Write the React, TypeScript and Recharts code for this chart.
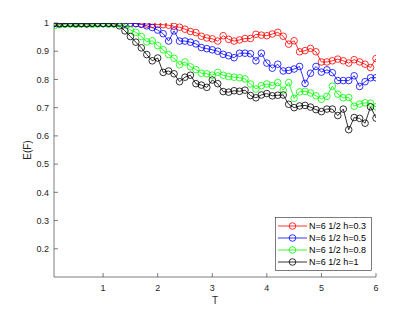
import { LineChart, Line, XAxis, YAxis, Legend } from 'recharts'

const T = [
  0.1, 0.2, 0.3, 0.4, 0.5, 0.6, 0.7, 0.8, 0.9, 1.0,
  1.1, 1.2, 1.3, 1.4, 1.5, 1.6, 1.7, 1.8, 1.9, 2.0,
  2.1, 2.2, 2.3, 2.4, 2.5, 2.6, 2.7, 2.8, 2.9, 3.0,
  3.1, 3.2, 3.3, 3.4, 3.5, 3.6, 3.7, 3.8, 3.9, 4.0,
  4.1, 4.2, 4.3, 4.4, 4.5, 4.6, 4.7, 4.8, 4.9, 5.0,
  5.1, 5.2, 5.3, 5.4, 5.5, 5.6, 5.7, 5.8, 5.9, 6.0,
]

const h03 = [
  1, 1, 0.999, 1, 1, 0.999, 1, 1, 1, 0.999,
  1, 1, 1, 0.999, 0.999, 0.998, 0.997, 0.996, 0.995, 0.995,
  0.994, 0.992, 0.988, 0.985, 0.978, 0.97, 0.966, 0.953, 0.947, 0.944,
  0.936, 0.955, 0.942, 0.936, 0.94, 0.945, 0.945, 0.96, 0.957, 0.955,
  0.961, 0.967, 0.953, 0.925, 0.937, 0.898, 0.902, 0.91, 0.898, 0.862,
  0.862, 0.866, 0.872, 0.866, 0.858, 0.87, 0.862, 0.854, 0.842, 0.874,
]

const h05 = [
  0.998, 0.999, 0.999, 0.998, 0.999, 0.999, 0.998, 0.999, 0.999, 0.999,
  0.998, 0.999, 0.999, 0.999, 0.999, 0.998, 0.995, 0.99, 0.984, 0.975,
  0.962, 0.936, 0.972, 0.936, 0.936, 0.932, 0.926, 0.913, 0.909, 0.905,
  0.9, 0.889, 0.884, 0.877, 0.893, 0.893, 0.891, 0.866, 0.893, 0.858,
  0.84, 0.854, 0.83, 0.832, 0.837, 0.846, 0.786, 0.822, 0.846, 0.826,
  0.834, 0.824, 0.796, 0.796, 0.796, 0.813, 0.775, 0.792, 0.806, 0.806,
]

const h08 = [
  0.99, 0.994, 0.995, 0.996, 0.995, 0.996, 0.996, 0.995, 0.996, 0.997,
  0.996, 0.996, 0.997, 0.995, 0.975, 0.967, 0.952, 0.933, 0.937, 0.92,
  0.905, 0.888, 0.875, 0.852, 0.862, 0.845, 0.835, 0.822, 0.82, 0.815,
  0.825, 0.815, 0.81, 0.808, 0.806, 0.802, 0.784, 0.766, 0.778, 0.784,
  0.778, 0.789, 0.762, 0.789, 0.733, 0.756, 0.758, 0.752, 0.742, 0.73,
  0.74, 0.776, 0.748, 0.735, 0.736, 0.705, 0.713, 0.717, 0.716, 0.703,
]

const h1 = [
  0.998, 0.997, 0.998, 0.999, 0.998, 0.998, 0.997, 0.999, 0.999, 0.998,
  0.999, 0.998, 0.99, 0.972, 0.952, 0.932, 0.912, 0.888, 0.866, 0.876,
  0.825, 0.83, 0.82, 0.792, 0.808, 0.815, 0.785, 0.78, 0.772, 0.798,
  0.785, 0.757, 0.755, 0.76, 0.758, 0.762, 0.743, 0.735, 0.745, 0.75,
  0.742, 0.744, 0.745, 0.712, 0.7, 0.706, 0.708, 0.702, 0.693, 0.686,
  0.695, 0.695, 0.672, 0.695, 0.622, 0.665, 0.662, 0.645, 0.703, 0.663,
]

const series = [
  { key: 'h03', name: 'N=6 1/2 h=0.3', color: '#ff0000', values: h03 },
  { key: 'h05', name: 'N=6 1/2 h=0.5', color: '#0000ff', values: h05 },
  { key: 'h08', name: 'N=6 1/2 h=0.8', color: '#00ff00', values: h08 },
  { key: 'h1', name: 'N=6 1/2 h=1', color: '#000000', values: h1 },
]

const xTicks = [1, 2, 3, 4, 5, 6]
const yTicks = [0.2, 0.3, 0.4, 0.5, 0.6, 0.7, 0.8, 0.9, 1]

const data = T.map((t, i) => {
  const row: Record<string, number> = { t }
  series.forEach((s) => {
    row[s.key] = s.values[i]
  })
  return row
})

const AXIS = '#262626'
const FONT = '"Liberation Sans", Arial, Helvetica, sans-serif'
const TICK = 4

function BottomTick({ x, y, payload }: any) {
  return (
    <g>
      <line x1={x} y1={y} x2={x} y2={y - TICK} stroke={AXIS} strokeWidth={0.6} />
      <text x={x} y={y + 14} textAnchor="middle" fontSize={9} fill={AXIS} fontFamily={FONT}>
        {payload.value}
      </text>
    </g>
  )
}

function TopTick({ x, y }: any) {
  return <line x1={x} y1={y} x2={x} y2={y + TICK} stroke={AXIS} strokeWidth={0.6} />
}

function LeftTick({ x, y, payload }: any) {
  const v = payload.value
  return (
    <g>
      <line x1={x} y1={y} x2={x + TICK} y2={y} stroke={AXIS} strokeWidth={0.6} />
      <text x={x - 5} y={y + 3.2} textAnchor="end" fontSize={9} fill={AXIS} fontFamily={FONT}>
        {v === 1 ? '1' : v.toFixed(1)}
      </text>
    </g>
  )
}

function RightTick({ x, y }: any) {
  return <line x1={x} y1={y} x2={x - TICK} y2={y} stroke={AXIS} strokeWidth={0.6} />
}

function LegendBox() {
  return (
    <svg width={97} height={54} style={{ display: 'block' }}>
      <rect x={0.5} y={0.5} width={96} height={53} fill="#fff" stroke={AXIS} strokeWidth={0.6} />
      {series.map((s, i) => {
        const cy = 9 + i * 12
        return (
          <g key={s.key}>
            <line x1={3} x2={32} y1={cy} y2={cy} stroke={s.color} strokeWidth={0.8} />
            <circle cx={17.5} cy={cy} r={3.3} fill="none" stroke={s.color} strokeWidth={0.8} />
            <text x={34} y={cy + 3.2} fontSize={9} fill="#000" fontFamily={FONT}>
              {s.name}
            </text>
          </g>
        )
      })}
    </svg>
  )
}

export default function App() {
  return (
    <div style={{ position: 'absolute', left: 0, top: 0, background: '#fff' }}>
      <LineChart
        width={415}
        height={312}
        data={data}
        margin={{ top: 23, right: 39, bottom: 0, left: 0 }}
      >
        <XAxis
          xAxisId="bottom"
          dataKey="t"
          type="number"
          domain={[0.1, 6]}
          ticks={xTicks}
          interval={0}
          allowDataOverflow
          height={35}
          tickSize={0}
          tickMargin={0}
          tickLine={false}
          tick={<BottomTick />}
          axisLine={{ stroke: AXIS, strokeWidth: 0.6 }}
          label={{
            value: 'T',
            position: 'insideBottom',
            offset: 8,
            fontSize: 10,
            fill: AXIS,
            fontFamily: FONT,
          }}
        />
        <XAxis
          xAxisId="top"
          orientation="top"
          dataKey="t"
          type="number"
          domain={[0.1, 6]}
          ticks={xTicks}
          interval={0}
          allowDataOverflow
          height={0}
          tickSize={0}
          tickMargin={0}
          tickLine={false}
          tick={<TopTick />}
          axisLine={{ stroke: AXIS, strokeWidth: 0.6 }}
        />
        <YAxis
          yAxisId="left"
          type="number"
          domain={[0.1, 1]}
          ticks={yTicks}
          interval={0}
          allowDataOverflow
          width={54}
          tickSize={0}
          tickMargin={0}
          tickLine={false}
          tick={<LeftTick />}
          axisLine={{ stroke: AXIS, strokeWidth: 0.6 }}
          label={{
            value: 'E(F)',
            angle: -90,
            position: 'center',
            fontSize: 10,
            fill: AXIS,
            fontFamily: FONT,
          }}
        />
        <YAxis
          yAxisId="right"
          orientation="right"
          type="number"
          domain={[0.1, 1]}
          ticks={yTicks}
          interval={0}
          allowDataOverflow
          width={0}
          tickSize={0}
          tickMargin={0}
          tickLine={false}
          tick={<RightTick />}
          axisLine={{ stroke: AXIS, strokeWidth: 0.6 }}
        />
        {series.map((s) => (
          <Line
            key={s.key}
            xAxisId="bottom"
            yAxisId="left"
            type="linear"
            dataKey={s.key}
            name={s.name}
            stroke={s.color}
            strokeWidth={0.8}
            dot={{ r: 3.3, fill: 'none', stroke: s.color, strokeWidth: 0.8 }}
            activeDot={false}
            isAnimationActive={false}
          />
        ))}
        <Legend
          layout="vertical"
          align="center"
          verticalAlign="middle"
          content={<LegendBox />}
          wrapperStyle={{ left: 275, top: 217, width: 97, height: 54 }}
        />
      </LineChart>
    </div>
  )
}
